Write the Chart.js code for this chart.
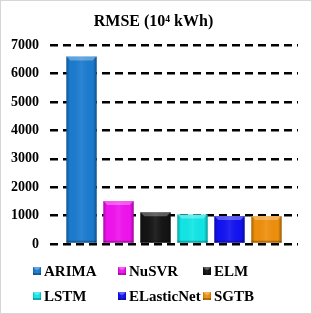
<!DOCTYPE html>
<html>
<head>
<meta charset="utf-8">
<script src="https://cdn.jsdelivr.net/npm/chart.js@4"></script>
<style>
  html, body { margin: 0; padding: 0; background: #fff; }
  #wrap { width: 312px; height: 314px; box-sizing: border-box; border: 1px solid #d6d6d6; }
</style>
</head>
<body>
<div id="wrap"><canvas id="myData"></canvas></div>
<script>
const models = ["ARIMA", "NuSVR", "ELM", "LSTM", "ELasticNet", "SGTB"];
const rmse = [6600, 1510, 1120, 1040, 990, 985];
const colors = ["#1b7bcf", "#f012ee", "#141414", "#12e6e6", "#1212f2", "#ef8f0c"];
const yMin = 0, yMax = 7000, yStep = 1000;

const serif = "'Liberation Serif', 'Times New Roman', serif";

// little bevel so the bars look like the 3D ones in the picture
function bevel(ctx, x0, y0, w, h) {
  const g = ctx.createLinearGradient(x0, 0, x0 + w, 0);
  g.addColorStop(0, "rgba(0,0,0,0.30)");
  g.addColorStop(0.12, "rgba(0,0,0,0.0)");
  g.addColorStop(0.5, "rgba(255,255,255,0.08)");
  g.addColorStop(0.88, "rgba(0,0,0,0.0)");
  g.addColorStop(1, "rgba(0,0,0,0.35)");
  ctx.fillStyle = g;
  ctx.fillRect(x0, y0, w, h);
  const t = Math.min(4, h / 3);
  ctx.fillStyle = "rgba(255,255,255,0.30)";
  ctx.beginPath();
  ctx.moveTo(x0, y0);
  ctx.lineTo(x0 + w, y0);
  ctx.lineTo(x0 + w - t, y0 + t);
  ctx.lineTo(x0 + t, y0 + t);
  ctx.closePath();
  ctx.fill();
  ctx.fillStyle = "rgba(0,0,0,0.25)";
  ctx.fillRect(x0, y0 + h - 2, w, 2);
}

const barShade = {
  id: "barShade",
  afterDatasetsDraw(chart) {
    const ctx = chart.ctx;
    ctx.save();
    chart.data.datasets.forEach((ds, i) => {
      chart.getDatasetMeta(i).data.forEach(bar => {
        const p = bar.getProps(["x", "y", "base", "width"], true);
        bevel(ctx, p.x - p.width / 2, p.y, p.width, p.base - p.y);
      });
    });
    ctx.restore();
  }
};

// legend in a fixed 3 x 2 grid
const gridLegend = {
  id: "gridLegend",
  afterDraw(chart) {
    const ctx = chart.ctx;
    const cols = [32, 117, 202];
    const rows = [270, 295];
    ctx.save();
    ctx.font = "bold 15px " + serif;
    ctx.textBaseline = "middle";
    ctx.textAlign = "left";
    chart.data.datasets.forEach((ds, i) => {
      const x = cols[i % 3], y = rows[Math.floor(i / 3)];
      ctx.fillStyle = ds.backgroundColor;
      ctx.fillRect(x, y - 4, 8, 8);
      bevel(ctx, x, y - 4, 8, 8);
      ctx.fillStyle = "#000";
      ctx.fillText(ds.label, x + 11, y + 1);
    });
    ctx.restore();
  }
};

const datasets = models.map((m, i) => ({
  label: m,
  data: [rmse[i]],
  backgroundColor: colors[i],
  borderWidth: 0,
  categoryPercentage: 0.895,
  barPercentage: 0.82
}));

new Chart(document.getElementById("myData"), {
  type: "bar",
  data: { labels: ["RMSE"], datasets: datasets },
  plugins: [barShade, gridLegend],
  options: {
    responsive: true,
    maintainAspectRatio: false,
    animation: false,
    layout: { padding: { left: 8, right: 13, top: 0, bottom: 69 } },
    plugins: {
      legend: { display: false },
      tooltip: { enabled: false },
      title: {
        display: true,
        text: "RMSE (10\u2074 kWh)",
        color: "#000",
        font: { family: serif, size: 16, weight: "bold" },
        padding: { top: 11, bottom: 14 }
      }
    },
    scales: {
      x: { display: false },
      y: {
        min: yMin,
        max: yMax,
        afterFit: s => { s.width = 41; },
        ticks: {
          stepSize: yStep,
          color: "#000",
          padding: 11,
          font: { family: serif, size: 14, weight: "bold" },
          callback: v => String(v)
        },
        border: { display: false, dash: [8, 5] },
        grid: { color: "#000", lineWidth: 2.5, drawTicks: false }
      }
    }
  }
});
</script>
</body>
</html>
